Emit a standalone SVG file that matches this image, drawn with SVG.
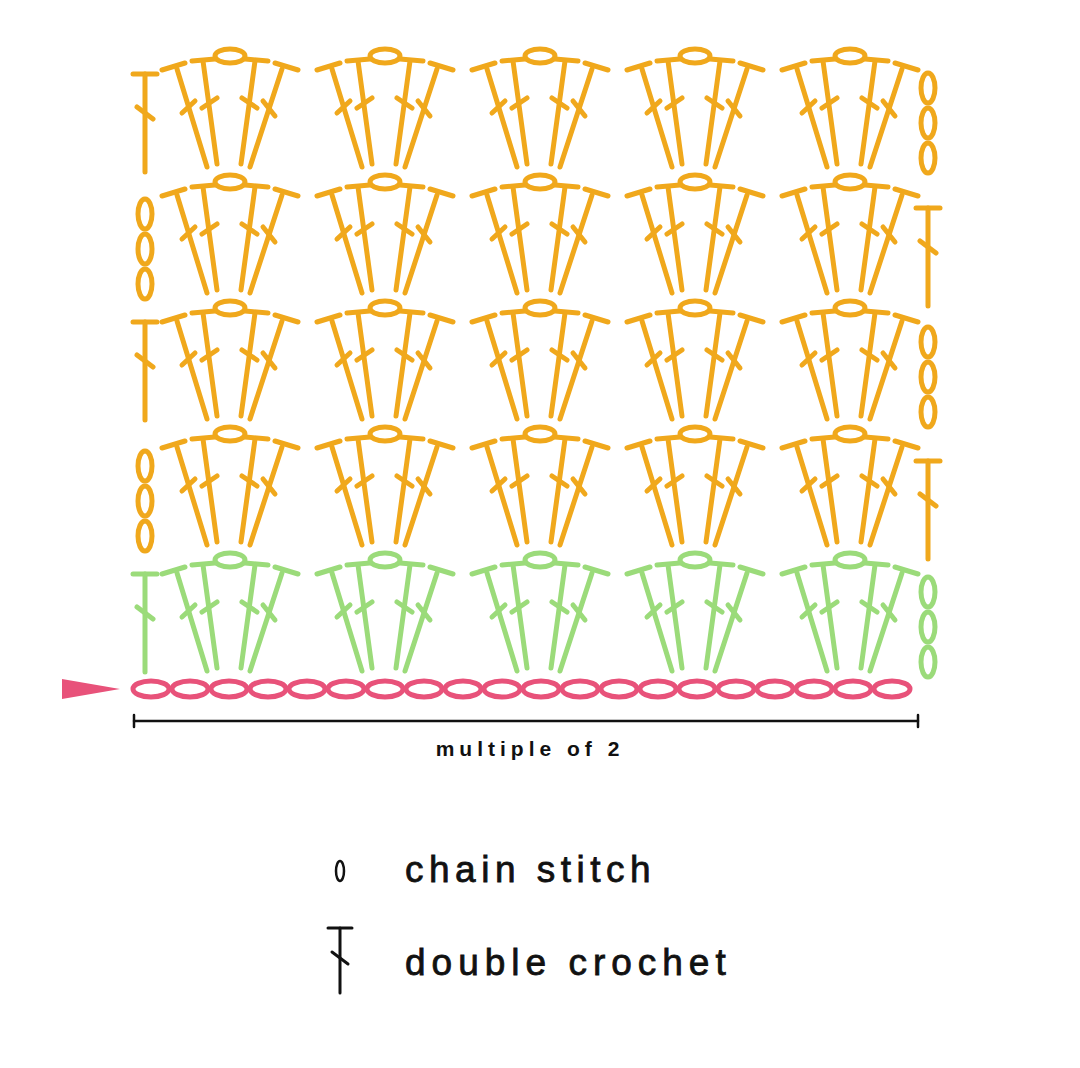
<svg xmlns="http://www.w3.org/2000/svg" xmlns:xlink="http://www.w3.org/1999/xlink" width="1080" height="1068" viewBox="0 0 1080 1068">
<style>
.o{stroke:#F0A81C}.g{stroke:#9BDB7A}.p{stroke:#E8527A}.k{stroke:#111}
line,ellipse{fill:none;stroke-width:5;stroke-linecap:round}
text{font-family:"Liberation Sans",Arial,sans-serif;fill:#111}
</style>
<defs>
<g id="fan">
<ellipse cx="0" cy="0" rx="15" ry="7"/>
<line x1="-68" y1="14" x2="-45" y2="7"/><line x1="-38" y1="5" x2="-15" y2="3"/>
<line x1="68" y1="14" x2="45" y2="7"/><line x1="38" y1="5" x2="15" y2="3"/>
<line x1="-53" y1="13" x2="-23" y2="111"/><line x1="-27" y1="5" x2="-13" y2="108"/>
<line x1="25" y1="5" x2="11" y2="108"/><line x1="52" y1="13" x2="20" y2="111"/>
<line x1="-48" y1="57" x2="-35" y2="45"/><line x1="-28" y1="52" x2="-13" y2="42"/>
<line x1="12" y1="42" x2="27" y2="52"/><line x1="33" y1="45" x2="45" y2="60"/>
</g>
<g id="dc">
<line x1="-12" y1="0" x2="12" y2="0"/><line x1="0" y1="0" x2="0" y2="98"/><line x1="-8" y1="33" x2="8" y2="45"/>
</g>
<g id="ch3">
<ellipse cx="0" cy="0" rx="7" ry="15"/><ellipse cx="0" cy="35" rx="7" ry="15"/><ellipse cx="0" cy="70" rx="7" ry="15"/>
</g>
<ellipse id="fc" cx="0" cy="0" rx="18" ry="8"/>
</defs>
<g id="foundation" class="p">
<use href="#fc" x="151" y="689"/><use href="#fc" x="190" y="689"/><use href="#fc" x="229" y="689"/><use href="#fc" x="268" y="689"/><use href="#fc" x="307" y="689"/>
<use href="#fc" x="346" y="689"/><use href="#fc" x="385" y="689"/><use href="#fc" x="424" y="689"/><use href="#fc" x="463" y="689"/><use href="#fc" x="502" y="689"/>
<use href="#fc" x="541" y="689"/><use href="#fc" x="580" y="689"/><use href="#fc" x="619" y="689"/><use href="#fc" x="658" y="689"/><use href="#fc" x="697" y="689"/>
<use href="#fc" x="736" y="689"/><use href="#fc" x="775" y="689"/><use href="#fc" x="814" y="689"/><use href="#fc" x="853" y="689"/><use href="#fc" x="892" y="689"/>
<polygon points="62,679 62,699 120,689" fill="#E8527A" stroke="none"/>
</g>
<g id="row1" class="g">
<use href="#fan" x="230" y="560"/><use href="#fan" x="385" y="560"/><use href="#fan" x="540" y="560"/><use href="#fan" x="695" y="560"/><use href="#fan" x="850" y="560"/>
<use href="#dc" x="145" y="574"/><use href="#ch3" x="928" y="592"/>
</g>
<g id="row2" class="o">
<use href="#fan" x="230" y="434"/><use href="#fan" x="385" y="434"/><use href="#fan" x="540" y="434"/><use href="#fan" x="695" y="434"/><use href="#fan" x="850" y="434"/>
<use href="#ch3" x="145" y="466"/><use href="#dc" x="928" y="461"/>
</g>
<g id="row3" class="o">
<use href="#fan" x="230" y="308"/><use href="#fan" x="385" y="308"/><use href="#fan" x="540" y="308"/><use href="#fan" x="695" y="308"/><use href="#fan" x="850" y="308"/>
<use href="#dc" x="145" y="322"/><use href="#ch3" x="928" y="342"/>
</g>
<g id="row4" class="o">
<use href="#fan" x="230" y="182"/><use href="#fan" x="385" y="182"/><use href="#fan" x="540" y="182"/><use href="#fan" x="695" y="182"/><use href="#fan" x="850" y="182"/>
<use href="#ch3" x="145" y="214"/><use href="#dc" x="928" y="208"/>
</g>
<g id="row5" class="o">
<use href="#fan" x="230" y="56"/><use href="#fan" x="385" y="56"/><use href="#fan" x="540" y="56"/><use href="#fan" x="695" y="56"/><use href="#fan" x="850" y="56"/>
<use href="#dc" x="145" y="74"/><use href="#ch3" x="928" y="88"/>
</g>
<g id="measure" class="k">
<line x1="134" y1="721" x2="918" y2="721" style="stroke-width:2.5"/>
<line x1="134" y1="715" x2="134" y2="727" style="stroke-width:2.5"/>
<line x1="918" y1="715" x2="918" y2="727" style="stroke-width:2.5"/>
<text x="530" y="756" font-size="21" text-anchor="middle" letter-spacing="5" font-weight="bold" stroke="none">multiple of 2</text>
</g>
<g id="legend">
<ellipse class="k" cx="340" cy="871" rx="4" ry="10" style="stroke-width:2.5"/>
<text x="405" y="882" font-size="37" letter-spacing="5.5" stroke="#111" stroke-width="0.8">chain stitch</text>
<line class="k" x1="328" y1="928" x2="352" y2="928" style="stroke-width:3"/><line class="k" x1="340" y1="928" x2="340" y2="993" style="stroke-width:3"/><line class="k" x1="332" y1="952" x2="348" y2="964" style="stroke-width:3"/>
<text x="405" y="975" font-size="37" letter-spacing="6" stroke="#111" stroke-width="0.8">double crochet</text>
</g>
</svg>
